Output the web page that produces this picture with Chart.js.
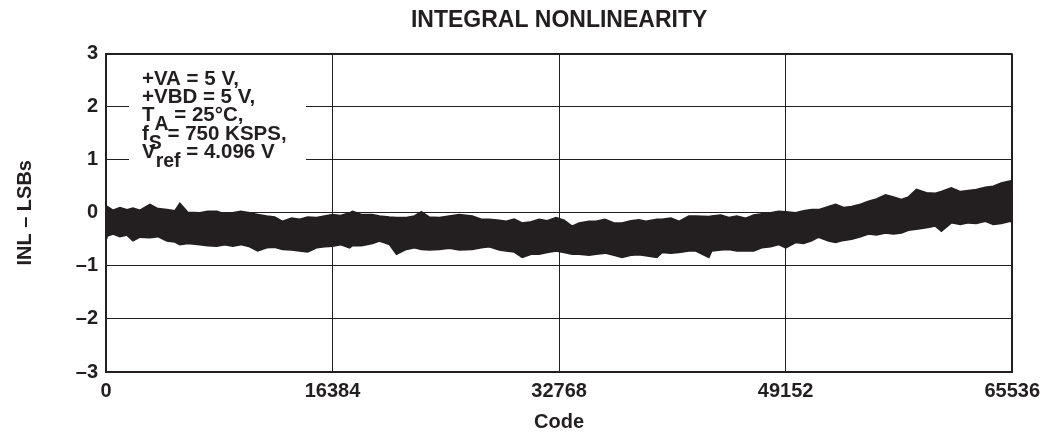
<!DOCTYPE html>
<html>
<head>
<meta charset="utf-8">
<title>Integral Nonlinearity</title>
<script src="https://cdn.jsdelivr.net/npm/chart.js@4.4.1/dist/chart.umd.min.js"></script>
<style>
  html, body { margin: 0; padding: 0; background: #fff; }
  #wrap { width: 1047px; height: 434px; }
</style>
</head>
<body>
<div id="wrap"><canvas id="inl" width="1047" height="434"></canvas></div>
<script>
// INL envelope: the noisy trace is drawn as the band
// between its upper and lower edge at each code.
const codes = [
  0, 72, 505, 1010, 1516, 1949, 2454, 3176, 3753, 4403, 4980, 5341, 5919,
  6785, 7362, 8012, 8589, 9167, 9744, 10394, 10971, 11621, 12198, 12776,
  13425, 14003, 14580, 15230, 15807, 16385, 16962, 17612, 17828, 18478,
  19272, 19777, 20499, 21004, 21726, 22304, 22809, 23386, 24108, 24830,
  25552, 26490, 27140, 27717, 28439, 28945, 29522, 30099, 30749, 31327,
  31904, 32553, 33131, 33708, 34213, 34935, 35440, 36090, 36740, 37317,
  37967, 38544, 39050, 39844, 40204, 40854, 41432, 42153, 42659, 43597,
  43814, 44463, 45041, 45618, 46268, 46845, 47423, 48072, 48650, 49155,
  49877, 50454, 51032, 51537, 52259, 52764, 53341, 53919, 54569, 55146,
  55723, 56373, 56950, 57528, 58033, 58611, 59333, 59982, 60415, 61137,
  61787, 62364, 62942, 63591, 64169, 64746, 65396, 65535,
];
const inlUpper = [
  0.10, 0.12, 0.05, 0.10, 0.06, 0.09, 0.05, 0.16, 0.08, 0.06, 0.04, 0.18, 0.01,
  0.00, 0.03, 0.03, -0.02, 0.00, 0.03, 0.00, -0.03, -0.06, -0.08, -0.16,
  -0.10, -0.12, -0.08, -0.09, -0.06, -0.03, -0.05, 0.00, 0.03, -0.03,
  -0.03, -0.06, -0.08, -0.09, -0.09, -0.06, 0.02, -0.08, -0.09, -0.06,
  -0.03, -0.06, -0.12, -0.12, -0.14, -0.16, -0.12, -0.19, -0.17, -0.12,
  -0.15, -0.09, -0.14, -0.25, -0.19, -0.16, -0.16, -0.12, -0.19, -0.19,
  -0.15, -0.13, -0.16, -0.12, -0.12, -0.10, -0.16, -0.06, -0.06, -0.07,
  -0.06, -0.04, -0.09, -0.06, -0.10, -0.04, -0.02, 0.00, 0.03, 0.02,
  0.00, 0.04, 0.06, 0.06, 0.12, 0.16, 0.10, 0.12, 0.16, 0.22,
  0.26, 0.34, 0.30, 0.25, 0.30, 0.44, 0.38, 0.37, 0.40, 0.47,
  0.40, 0.42, 0.44, 0.48, 0.50, 0.56, 0.60, 0.52,
];
const inlLower = [
  -0.40, -0.44, -0.40, -0.45, -0.42, -0.53, -0.46, -0.47, -0.45, -0.53, -0.55, -0.60, -0.58,
  -0.60, -0.62, -0.63, -0.60, -0.63, -0.60, -0.64, -0.72, -0.66, -0.65, -0.69,
  -0.70, -0.72, -0.74, -0.66, -0.64, -0.63, -0.60, -0.66, -0.62, -0.62,
  -0.58, -0.53, -0.60, -0.78, -0.69, -0.66, -0.69, -0.70, -0.69, -0.67,
  -0.70, -0.69, -0.66, -0.64, -0.70, -0.72, -0.74, -0.84, -0.78, -0.78,
  -0.75, -0.72, -0.75, -0.78, -0.78, -0.80, -0.78, -0.76, -0.80, -0.84,
  -0.80, -0.79, -0.81, -0.84, -0.75, -0.76, -0.75, -0.72, -0.72, -0.84,
  -0.72, -0.70, -0.69, -0.72, -0.72, -0.72, -0.66, -0.64, -0.60, -0.66,
  -0.56, -0.58, -0.53, -0.46, -0.53, -0.56, -0.52, -0.50, -0.45, -0.40,
  -0.42, -0.38, -0.40, -0.38, -0.33, -0.31, -0.28, -0.25, -0.35, -0.19,
  -0.22, -0.19, -0.20, -0.16, -0.22, -0.20, -0.16, -0.18,
];

const xTicks = [0, 16384, 32768, 49152, 65536];
const yTicks = [-3, -2, -1, 0, 1, 2, 3];

// Test conditions box, top-left of the plot. Each line is [main, subscript, rest].
const conditions = [
  ['+VA = 5 V,', '', ''],
  ['+VBD = 5 V,', '', ''],
  ['T', 'A', ' = 25°C,'],
  ['f', 'S', ' = 750 KSPS,'],
  ['V', 'ref', ' = 4.096 V'],
];

const INK = '#231f20';
const FONT = 'Liberation Sans, Arial, Helvetica, sans-serif';

// Draws the conditions text on a white patch that hides the grid behind it
const conditionsBox = {
  id: 'conditionsBox',
  afterDraw(chart) {
    const { ctx, chartArea } = chart;
    const left = chartArea.left + 23;
    ctx.save();
    ctx.fillStyle = '#fff';
    ctx.fillRect(left, chartArea.top + 8, 177, 114);
    ctx.fillStyle = INK;
    ctx.textBaseline = 'alphabetic';
    conditions.forEach((parts, i) => {
      let x = left + 13;
      const y = chartArea.top + 31 + i * 18.3;
      ctx.font = `bold 20.5px ${FONT}`;
      ctx.fillText(parts[0], x, y);
      x += ctx.measureText(parts[0]).width;
      if (parts[1]) {
        ctx.font = `bold 19.5px ${FONT}`;
        ctx.fillText(parts[1], x, y + 9);
        x += ctx.measureText(parts[1]).width;
        ctx.font = `bold 20.5px ${FONT}`;
        ctx.fillText(parts[2], x, y);
      }
    });
    ctx.restore();
  },
};

const toPoints = vals => codes.map((c, i) => ({ x: c, y: vals[i] }));

new Chart(document.getElementById('inl'), {
  type: 'line',
  data: {
    datasets: [
      {
        label: 'INL upper',
        data: toPoints(inlUpper),
        borderColor: INK,
        backgroundColor: INK,
        borderWidth: 1.5,
        pointRadius: 0,
        tension: 0,
        fill: '+1',
      },
      {
        label: 'INL lower',
        data: toPoints(inlLower),
        borderColor: INK,
        borderWidth: 1.5,
        pointRadius: 0,
        tension: 0,
        fill: false,
      },
    ],
  },
  options: {
    responsive: false,
    animation: false,
    layout: { padding: { left: 0, right: 33, top: 0, bottom: 0 } },
    scales: {
      x: {
        type: 'linear',
        min: 0,
        max: 65536,
        afterBuildTicks: s => { s.ticks = xTicks.map(v => ({ value: v })); },
        afterFit: s => { s.height = 62; },
        ticks: {
          color: INK,
          padding: 7,
          maxRotation: 0,
          font: { family: FONT, size: 20, weight: 'bold' },
          callback: v => String(v),
        },
        grid: {
          color: INK,
          drawTicks: false,
          lineWidth: c => (c.tick && (c.tick.value === 0 || c.tick.value === 65536)) ? 2 : 1,
        },
        border: { color: INK, width: 2 },
        title: {
          display: true,
          text: 'Code',
          color: INK,
          padding: { top: 0, bottom: 0 },
          font: { family: FONT, size: 20, weight: 'bold' },
        },
      },
      y: {
        min: -3,
        max: 3,
        afterBuildTicks: s => { s.ticks = yTicks.map(v => ({ value: v })); },
        afterFit: s => { s.width = 106; },
        ticks: {
          color: INK,
          padding: 8,
          font: { family: FONT, size: 20, weight: 'bold' },
          callback: v => String(v).replace('-', '\u2013'),
        },
        grid: {
          color: INK,
          drawTicks: false,
          lineWidth: c => (c.tick && Math.abs(c.tick.value) === 3) ? 2 : 1,
        },
        border: { color: INK, width: 2 },
        title: {
          display: true,
          text: 'INL \u2013 LSBs',
          color: INK,
          padding: { top: 13, bottom: 0 },
          font: { family: FONT, size: 20, weight: 'bold' },
        },
      },
    },
    plugins: {
      legend: { display: false },
      tooltip: { enabled: false },
      title: {
        display: true,
        fullSize: false,
        text: 'INTEGRAL NONLINEARITY',
        color: INK,
        padding: { top: 7, bottom: 19 },
        font: { family: FONT, size: 23, weight: 'bold' },
      },
    },
  },
  plugins: [conditionsBox],
});
</script>
</body>
</html>
